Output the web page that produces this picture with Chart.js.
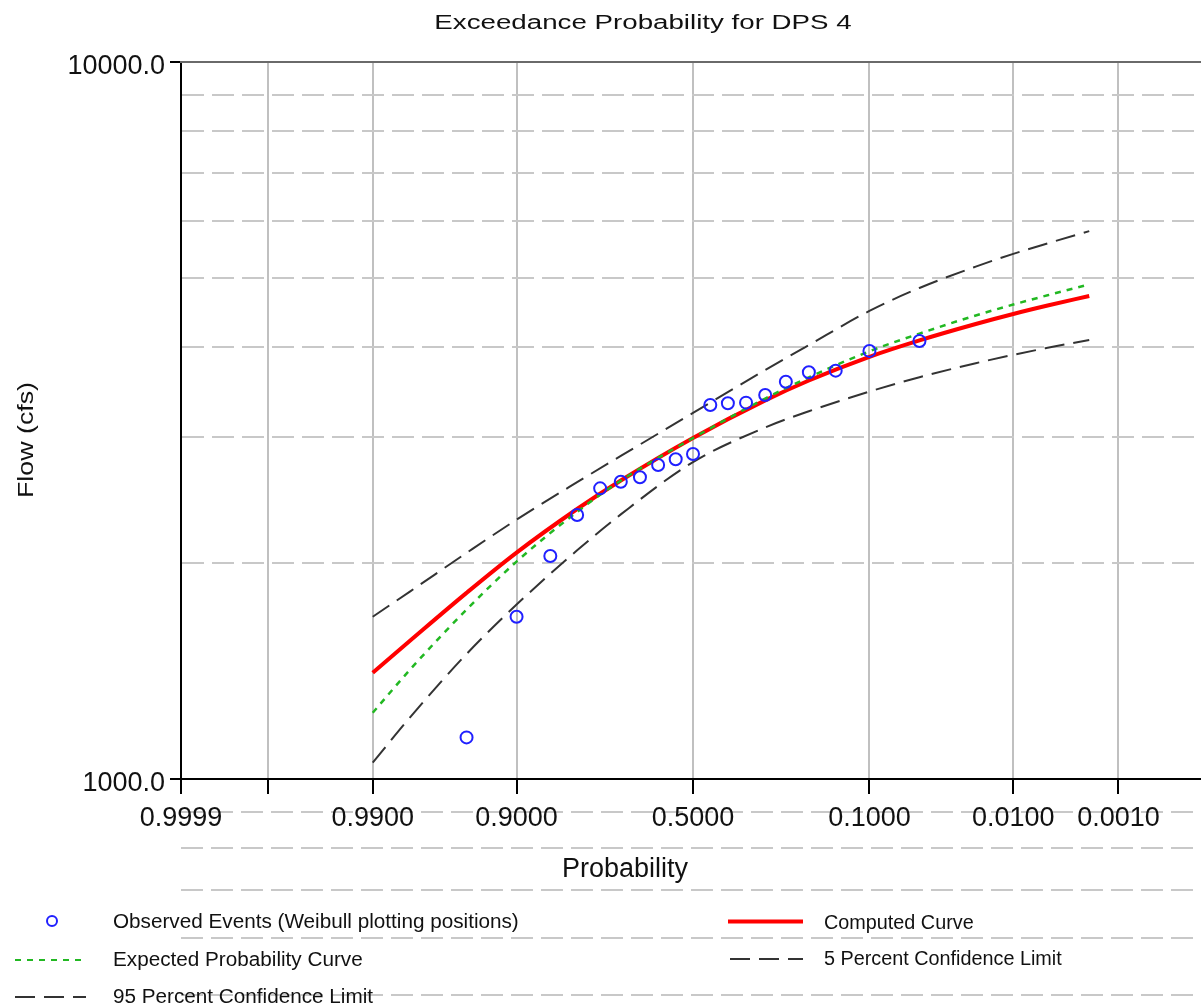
<!DOCTYPE html>
<html>
<head>
<meta charset="utf-8">
<title>Exceedance Probability for DPS 4</title>
<script src="https://cdn.jsdelivr.net/npm/chart.js@4.4.1/dist/chart.umd.min.js"></script>
<style>
  html, body { margin: 0; padding: 0; background: #fff; overflow: hidden; }
  #wrap { width: 1213px; height: 1008px; position: relative; }
</style>
</head>
<body>
<div id="wrap"><canvas id="freq"></canvas></div>
<script>
// probability axis ticks (exceedance probability) and log flow grid
var xTickProbs = [0.9999, 0.999, 0.99, 0.9, 0.5, 0.1, 0.01, 0.001]
var xTickLabels = ['0.9999', '', '0.9900', '0.9000', '0.5000', '0.1000', '0.0100', '0.0010']
var yGridFlows = [1000, 2000, 3000, 4000, 5000, 6000, 7000, 8000, 9000, 10000]
var yLabelFlows = [1000, 10000]
var yExtraFlows = [900, 800, 700, 600, 500]   // grid runs on below the plot

// observed events, weibull plotting positions m/(n+1), n = 19
var obsProb = [0.95, 0.90, 0.85, 0.80, 0.75, 0.70, 0.65, 0.60, 0.55, 0.50,
               0.45, 0.40, 0.35, 0.30, 0.25, 0.20, 0.15, 0.10, 0.05]
var obsFlow = [1143, 1684, 2047, 2334, 2543, 2598, 2635, 2741, 2792, 2840,
               3323, 3342, 3349, 3432, 3582, 3692, 3711, 3954, 4083]

// frequency curves
var curveProb = [0.99, 0.98, 0.95, 0.9, 0.8, 0.7, 0.5, 0.3, 0.2, 0.1, 0.05, 0.02, 0.01, 0.005, 0.002]
var computedFlow = [1407, 1560, 1818, 2069, 2380, 2608, 2990, 3373, 3596, 3880, 4090, 4311, 4452, 4574, 4717]
var expectedFlow = [1237, 1422, 1723, 2010, 2358, 2607, 2989, 3393, 3633, 3949, 4180, 4431, 4589, 4728, 4895]
var conf5Flow = [1684, 1827, 2067, 2300, 2594, 2822, 3240, 3718, 4030, 4496, 4840, 5183, 5400, 5585, 5810]
var conf95Flow = [1054, 1220, 1494, 1751, 2084, 2339, 2767, 3092, 3258, 3470, 3634, 3801, 3905, 3994, 4096]

var FONT = '"Liberation Sans", Arial, sans-serif'
var GRID = '#c8c8c8'
var DASH = [22, 8]
var CONF_DASH = [20, 9]

// inverse standard normal (Acklam)
function normInv(p){
    var a = [-3.969683028665376e+01, 2.209460984245205e+02, -2.759285104469687e+02, 1.383577518672690e+02, -3.066479806614716e+01, 2.506628277459239e+00]
    var b = [-5.447609879822406e+01, 1.615858368580409e+02, -1.556989798598866e+02, 6.680131188771972e+01, -1.328068155288572e+01]
    var c = [-7.784894002430293e-03, -3.223964580411365e-01, -2.400758277161838e+00, -2.549732539343734e+00, 4.374664141464968e+00, 2.938163982698783e+00]
    var d = [7.784695709041462e-03, 3.224671290700398e-01, 2.445134137142996e+00, 3.754408661907416e+00]
    var pl = 0.02425, q, r
    if(p < pl){
        q = Math.sqrt(-2*Math.log(p))
        return (((((c[0]*q+c[1])*q+c[2])*q+c[3])*q+c[4])*q+c[5])/((((d[0]*q+d[1])*q+d[2])*q+d[3])*q+1)
    }
    if(p > 1-pl){
        q = Math.sqrt(-2*Math.log(1-p))
        return -(((((c[0]*q+c[1])*q+c[2])*q+c[3])*q+c[4])*q+c[5])/((((d[0]*q+d[1])*q+d[2])*q+d[3])*q+1)
    }
    q = p-0.5
    r = q*q
    return (((((a[0]*r+a[1])*r+a[2])*r+a[3])*r+a[4])*r+a[5])*q/(((((b[0]*r+b[1])*r+b[2])*r+b[3])*r+b[4])*r+1)
}
// exceedance probability -> standard normal variate (left = frequent, right = rare)
function zOf(p){ return normInv(1-p) }

function pairs(probs, flows){
    var out = []
    for(var i=0;i<probs.length;i++){
        out.push({x: zOf(probs[i]), y: flows[i]})
    }
    return out
}

function text(ctx, str, x, y, size, sx, align, rot){
    ctx.save()
    ctx.translate(x, y)
    if(rot) ctx.rotate(rot)
    ctx.scale(sx, 1)
    ctx.font = size + 'px ' + FONT
    ctx.fillStyle = '#111'
    ctx.textAlign = align
    ctx.textBaseline = 'alphabetic'
    ctx.fillText(str, 0, 0)
    ctx.restore()
}

function seg(ctx, x1, y1, x2, y2, color, width, dash){
    ctx.save()
    ctx.strokeStyle = color
    ctx.lineWidth = width
    ctx.setLineDash(dash || [])
    ctx.beginPath()
    ctx.moveTo(x1, y1)
    ctx.lineTo(x2, y2)
    ctx.stroke()
    ctx.restore()
}

var decor = {
    id: 'decor',
    beforeDraw: function(chart){
        var ctx = chart.ctx
        var ys = chart.scales.y
        var left = chart.chartArea.left
        ctx.save()
        ctx.fillStyle = '#fff'
        ctx.fillRect(0, 0, chart.width, chart.height)
        ctx.restore()
        yExtraFlows.forEach(function(v){
            var y = Math.round(ys.getPixelForValue(v))
            seg(ctx, left, y, chart.width, y, GRID, 2, DASH)
        })
    },
    afterDraw: function(chart){
        var ctx = chart.ctx
        var a = chart.chartArea
        // top frame
        seg(ctx, a.left - 1, a.top, chart.width, a.top, '#6a6a6a', 2)

        text(ctx, 'Exceedance Probability for DPS 4', 643, 29, 20, 1.385, 'center')
        text(ctx, 'Flow (cfs)', 33, 440, 22, 1.217, 'center', -Math.PI/2)
        text(ctx, 'Probability', 625, 877, 27, 1.0, 'center')

        // legend
        ctx.save()
        ctx.strokeStyle = '#2020ff'
        ctx.lineWidth = 2
        ctx.beginPath()
        ctx.arc(52, 921, 5, 0, Math.PI*2)
        ctx.stroke()
        ctx.restore()
        text(ctx, 'Observed Events (Weibull plotting positions)', 113, 928, 20, 1.035, 'left')

        seg(ctx, 728, 921.5, 803, 921.5, '#ff0000', 4)
        text(ctx, 'Computed Curve', 824, 929, 20, 0.99, 'left')

        seg(ctx, 15, 960, 86, 960, '#22b822', 2, [6, 6])
        text(ctx, 'Expected Probability Curve', 113, 966, 20, 1.035, 'left')

        seg(ctx, 730, 959, 803, 959, '#333', 2, CONF_DASH)
        text(ctx, '5 Percent Confidence Limit', 824, 965, 20, 0.99, 'left')

        seg(ctx, 15, 997, 86, 997, '#333', 2, CONF_DASH)
        text(ctx, '95 Percent Confidence Limit', 113, 1003, 20, 1.035, 'left')
    }
}

var ctx = document.getElementById('freq').getContext('2d')
var chart1 = new Chart(ctx, {
    type: 'scatter',
    plugins: [decor],
    data: {
        datasets: [{
            label: 'Observed Events (Weibull plotting positions)',
            data: pairs(obsProb, obsFlow),
            showLine: false,
            pointRadius: 6,
            pointBorderWidth: 2,
            pointBorderColor: '#2020ff',
            pointBackgroundColor: 'rgba(0,0,0,0)'
        }, {
            label: 'Expected Probability Curve',
            data: pairs(curveProb, expectedFlow),
            showLine: true,
            borderColor: '#22b822',
            borderWidth: 2.5,
            borderDash: [6, 6],
            pointRadius: 0,
            cubicInterpolationMode: 'monotone'
        }, {
            label: 'Computed Curve',
            data: pairs(curveProb, computedFlow),
            showLine: true,
            borderColor: '#ff0000',
            borderWidth: 4,
            pointRadius: 0,
            cubicInterpolationMode: 'monotone'
        }, {
            label: '5 Percent Confidence Limit',
            data: pairs(curveProb, conf5Flow),
            showLine: true,
            borderColor: '#333',
            borderWidth: 2,
            borderDash: CONF_DASH,
            pointRadius: 0,
            cubicInterpolationMode: 'monotone'
        }, {
            label: '95 Percent Confidence Limit',
            data: pairs(curveProb, conf95Flow),
            showLine: true,
            borderColor: '#333',
            borderWidth: 2,
            borderDash: CONF_DASH,
            pointRadius: 0,
            cubicInterpolationMode: 'monotone'
        }]
    },
    options: {
        responsive: true,
        maintainAspectRatio: false,
        animation: false,
        events: [],
        layout: { padding: { top: 62, left: 0, right: 0, bottom: 0 } },
        plugins: {
            legend: { display: false },
            tooltip: { enabled: false },
            title: { display: false }
        },
        scales: {
            x: {
                type: 'linear',
                min: zOf(0.9999),
                max: zOf(0.0001),
                afterBuildTicks: function(scale){
                    scale.ticks = xTickProbs.map(function(p){ return {value: zOf(p)} })
                },
                afterFit: function(scale){ scale.height = 229 },
                grid: {
                    color: '#c0c0c0',
                    lineWidth: 2,
                    tickColor: '#000',
                    tickWidth: 2,
                    tickLength: 15
                },
                border: { color: '#000', width: 2 },
                ticks: {
                    autoSkip: false,
                    maxRotation: 0,
                    minRotation: 0,
                    padding: 8,
                    color: '#111',
                    font: { family: FONT, size: 27 },
                    callback: function(value, index){ return xTickLabels[index] }
                }
            },
            y: {
                type: 'logarithmic',
                min: 1000,
                max: 10000,
                afterBuildTicks: function(scale){
                    scale.ticks = yGridFlows.map(function(v){ return {value: v} })
                },
                afterFit: function(scale){ scale.width = 181 },
                grid: {
                    color: function(c){
                        var v = c.tick && c.tick.value
                        return (v === 1000 || v === 10000) ? 'rgba(0,0,0,0)' : GRID
                    },
                    lineWidth: 2,
                    tickColor: function(c){
                        var v = c.tick && c.tick.value
                        return yLabelFlows.indexOf(v) >= 0 ? '#000' : 'rgba(0,0,0,0)'
                    },
                    tickWidth: 2,
                    tickLength: 11
                },
                border: { color: '#000', width: 2, dash: DASH },
                ticks: {
                    padding: 5,
                    labelOffset: 5,
                    color: '#111',
                    font: { family: FONT, size: 27 },
                    callback: function(value){
                        return yLabelFlows.indexOf(value) >= 0 ? value.toFixed(1) : ''
                    }
                }
            }
        }
    }
})
</script>
</body>
</html>
